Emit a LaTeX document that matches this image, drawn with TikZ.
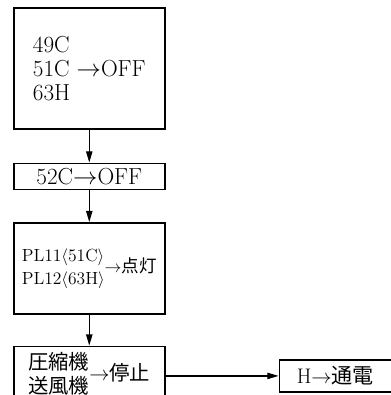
\documentclass[tikz,border=0pt]{standalone}
\usepackage{fontspec}
\newfontfamily\jp{Noto Sans CJK JP}
\usetikzlibrary{arrows.meta, positioning}
\tikzstyle{arrow}=[-{Triangle[length=8pt,width=4.5pt]}, line width=0.9pt, color=black]

\begin{document}
\begin{tikzpicture}[node distance=0.8cm and 2.8cm,
  box/.style={rectangle, draw=black, line width=1.1pt, minimum width=3.775cm,
              align=center, inner sep=0pt, font=\fontsize{16.5}{17}\selectfont}
]
\useasboundingbox (0,0) rectangle (9.75,-9.875);
% Relays off
\node[box, anchor=north west, minimum height=3.025cm, align=left] (relays) at (0.325,-0.175)
      {49C\\51C $\rightarrow$OFF\\63H};
\node[box, below=0.825cm of relays, minimum height=0.65cm] (mc) {52C$\rightarrow$OFF};

% Pilot lamps
\node[box, below=0.8cm of mc, minimum height=2.275cm,
      font=\fontsize{12.5}{16.5}\selectfont] (lamps)
      {\begin{tabular}{@{}l@{}}PL11$\langle$51C$\rangle$\\PL12$\langle$63H$\rangle$\end{tabular}$\rightarrow${\jp 点灯}};

% Stop and heater
\node[box, below=0.775cm of lamps, minimum height=1.475cm,
      font=\fontsize{14.5}{14.5}\selectfont] (stop)
      {\begin{tabular}{@{}l@{}}{\jp 圧縮機}\\{\jp 送風機}\end{tabular}$\rightarrow${\jp 停止}};
\node[box, right=2.825cm of stop, minimum width=2.8cm, minimum height=0.8cm,
      font=\fontsize{15}{17}\selectfont] (heater)
      {H$\rightarrow${\jp 通電}};

\draw[arrow] (relays) -- (mc);
\draw[arrow] (mc) -- (lamps);
\draw[arrow] (lamps) -- (stop);
\draw[arrow] (stop) -- (heater);
\end{tikzpicture}
\end{document}
